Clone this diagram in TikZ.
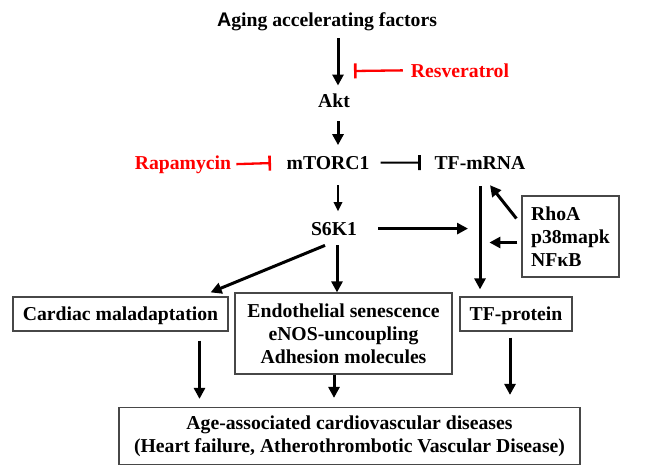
\documentclass[tikz,border=0pt]{standalone}
\usepackage{fontspec}
\setmainfont{Liberation Serif}
\newfontfamily\capfont{Liberation Sans}
\usetikzlibrary{arrows.meta}
\tikzset{>={Triangle[length=11pt,width=11pt]}}
\colorlet{drug}{red}
\colorlet{frame}{black!72}

\begin{document}
\begin{tikzpicture}[
  x=1pt, y=-1pt,
  font=\bfseries\fontsize{19.7}{23}\selectfont,
  lbl/.style={anchor=base, inner sep=0pt},
  box/.style={draw=frame, line width=1.2pt, inner sep=0pt, align=center},
  act/.style={->, line width=3pt},
  inh/.style={-{Bar[width=15pt,line width=2.6pt]}, line width=2.3pt}
]
  \useasboundingbox (0,0) rectangle (650,471);
  % texts
  \node[lbl] (aging) at (327,27) {{\capfont A}ging accelerating factors};
  \node[lbl] (akt) at (334,107) {Akt};
  \node[lbl] (mtorc) at (328,169) {mTORC1};
  \node[lbl] (tfmrna) at (480,169) {TF-mRNA};
  \node[lbl] (s6k) at (334,235) {S6K1};
  \node[lbl,drug] (resv) at (460,77) {Resveratrol};
  \node[lbl,drug] (rapa) at (183,169) {Rapamycin};
  % boxes
  \node[box, align=left, minimum width=97pt, minimum height=81pt] (rhoa) at (570.5,236.5)
    {RhoA\\p38mapk\\NFκB};
  \node[box, text depth=0pt, minimum width=215pt, minimum height=34pt] (cardiac) at (120.5,314)
    {Cardiac maladaptation};
  \node[box, minimum width=217pt, minimum height=81pt] (endo) at (343.5,333.5)
    {Endothelial senescence\\eNOS-uncoupling\\Adhesion molecules};
  \node[box, text depth=0pt, minimum width=112pt, minimum height=34pt] (tfprot) at (516,314)
    {TF-protein};
  \node[box, minimum width=461pt, minimum height=57pt] (cvd) at (349.5,436)
    {Age-associated cardiovascular diseases\\(Heart failure, Atherothrombotic Vascular Disease)};
  \coordinate (resvhit) at (354,71);
  % main column
  \draw[act, shorten <=6.7pt, shorten >=7.6pt] ([xshift=4pt]akt.north |- aging.south) -- ([xshift=4pt]akt.north);
  \draw[act, shorten <=14pt, shorten >=10.6pt] ([xshift=4pt]akt.south) -- ([xshift=4pt]akt.south |- mtorc.north);
  \draw[->, >={Triangle[length=9pt,width=8.5pt]}, line width=1.9pt, shorten <=16pt, shorten >=10.6pt]
    ([xshift=4pt]s6k.south |- mtorc.south) -- ([xshift=4pt]s6k.north);
  % inhibitors
  \draw[inh, drug, shorten <=8pt] (resv.west) -- (resvhit);
  \draw[inh, drug, shorten <=5pt, shorten >=15.4pt] (rapa.east) -- (mtorc.west);
  \draw[inh, line width=2pt, shorten <=11pt, shorten >=13.6pt] (mtorc.east) -- (tfmrna.west);
  % TF branch
  \draw[act, shorten <=21pt, shorten >=12pt] (s6k.east) -- (s6k.east -| tfmrna.south);
  \draw[act, shorten <=17pt, shorten >=7pt] (tfmrna.south) -- (tfmrna.south |- tfprot.north);
  \draw[act] ([shift={(-5,-18)}]rhoa.west) -- ([shift={(10,16)}]tfmrna.south);
  \draw[act] ([shift={(-4,6)}]rhoa.west) -- ++(-28,0);
  % S6K1 targets
  \draw[act, shorten <=0pt] ([shift={(-9,10)}]s6k.south) -- ([shift={(-18,-4)}]cardiac.north east);
  \draw[act, shorten <=10pt] ([xshift=3pt]s6k.south) -- ([xshift=3pt]s6k.south |- endo.north);
  % to diseases
  \draw[act, shorten <=9pt, shorten >=8pt] ([xshift=79pt]cardiac.south) -- ([xshift=79pt]cardiac.south |- cvd.north);
  \draw[act, shorten >=9pt] ([xshift=-9.5pt]endo.south) -- ([xshift=-9.5pt]endo.south |- cvd.north);
  \draw[act, shorten <=6pt, shorten >=12pt] ([xshift=-6pt]tfprot.south) -- ([xshift=-6pt]tfprot.south |- cvd.north);
\end{tikzpicture}
\end{document}
